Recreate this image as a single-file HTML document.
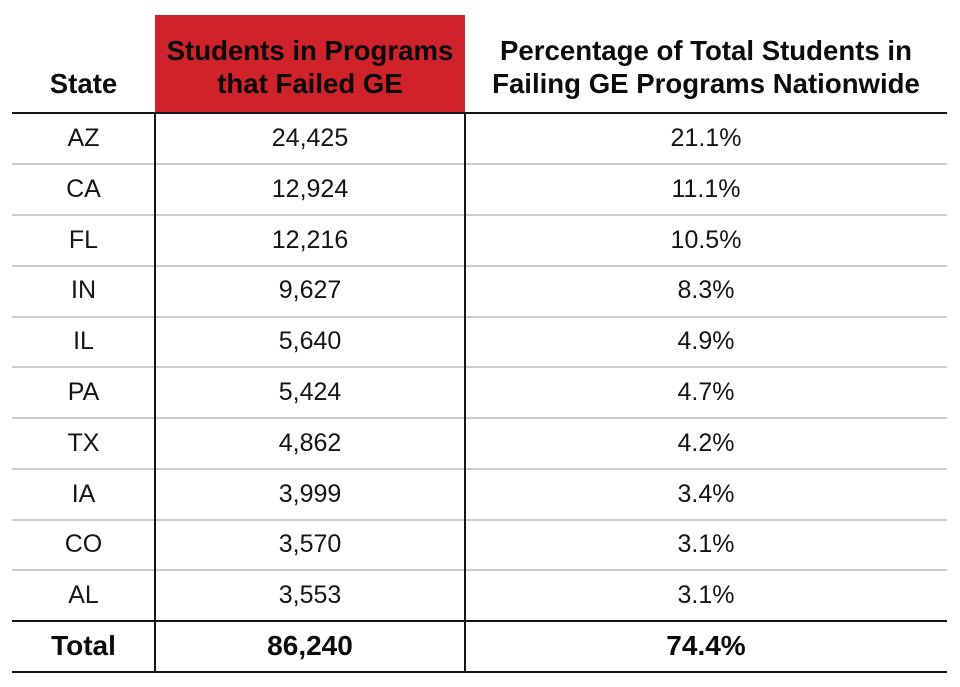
<!DOCTYPE html>
<html>
<head>
<meta charset="utf-8">
<style>
  html, body { margin:0; padding:0; background:#fff; }
  body { width:960px; height:687px; position:relative; overflow:hidden; font-family:"Liberation Sans", Arial, sans-serif; color:#111; }
  .abs { position:absolute; }
  .red { left:155px; top:15px; width:310px; height:98px; background:#d0222b; }
  .hline { position:absolute; left:12px; width:935px; height:2px; }
  .blk { background:#161616; }
  .gry { background:#cdcdcd; }
  .vline { position:absolute; width:2px; top:113px; height:559px; background:#161616; }
  .hdr { position:absolute; font-weight:bold; font-size:27.6px; line-height:33px; text-align:center; color:#0c0c0c; white-space:nowrap; }
  .cell { position:absolute; text-align:center; font-size:25px; height:50.8px; line-height:50.8px; white-space:nowrap; color:#151515; }
  .c1 { left:12px; width:143px; }
  .c2 { left:155px; width:310px; }
  .c3 { left:465px; width:482px; }
  .tot { font-weight:bold; font-size:28px; color:#0c0c0c; }
</style>
</head>
<body>
  <div class="abs red"></div>

  <div class="hdr" style="left:12px;width:143px;top:67px;">State</div>
  <div class="hdr" style="left:155px;width:310px;top:34px;">Students in Programs<br>that Failed GE</div>
  <div class="hdr" style="left:465px;width:482px;top:34px;">Percentage of Total Students in<br>Failing GE Programs Nationwide</div>

  <div class="hline blk" style="top:112px;"></div>
  <div class="hline gry" style="top:163px;"></div>
  <div class="hline gry" style="top:214px;"></div>
  <div class="hline gry" style="top:265px;"></div>
  <div class="hline gry" style="top:316px;"></div>
  <div class="hline gry" style="top:366px;"></div>
  <div class="hline gry" style="top:417px;"></div>
  <div class="hline gry" style="top:468px;"></div>
  <div class="hline gry" style="top:519px;"></div>
  <div class="hline gry" style="top:569px;"></div>
  <div class="hline blk" style="top:620px;"></div>
  <div class="hline blk" style="top:671px;"></div>

  <div class="vline" style="left:153.5px;"></div>
  <div class="vline" style="left:463.7px;"></div>

  <div class="cell c1" style="top:113px;">AZ</div><div class="cell c2" style="top:113px;">24,425</div><div class="cell c3" style="top:113px;">21.1%</div>
  <div class="cell c1" style="top:163.8px;">CA</div><div class="cell c2" style="top:163.8px;">12,924</div><div class="cell c3" style="top:163.8px;">11.1%</div>
  <div class="cell c1" style="top:214.6px;">FL</div><div class="cell c2" style="top:214.6px;">12,216</div><div class="cell c3" style="top:214.6px;">10.5%</div>
  <div class="cell c1" style="top:265.4px;">IN</div><div class="cell c2" style="top:265.4px;">9,627</div><div class="cell c3" style="top:265.4px;">8.3%</div>
  <div class="cell c1" style="top:316.2px;">IL</div><div class="cell c2" style="top:316.2px;">5,640</div><div class="cell c3" style="top:316.2px;">4.9%</div>
  <div class="cell c1" style="top:367px;">PA</div><div class="cell c2" style="top:367px;">5,424</div><div class="cell c3" style="top:367px;">4.7%</div>
  <div class="cell c1" style="top:417.8px;">TX</div><div class="cell c2" style="top:417.8px;">4,862</div><div class="cell c3" style="top:417.8px;">4.2%</div>
  <div class="cell c1" style="top:468.6px;">IA</div><div class="cell c2" style="top:468.6px;">3,999</div><div class="cell c3" style="top:468.6px;">3.4%</div>
  <div class="cell c1" style="top:519.4px;">CO</div><div class="cell c2" style="top:519.4px;">3,570</div><div class="cell c3" style="top:519.4px;">3.1%</div>
  <div class="cell c1" style="top:570.2px;">AL</div><div class="cell c2" style="top:570.2px;">3,553</div><div class="cell c3" style="top:570.2px;">3.1%</div>
  <div class="cell c1 tot" style="top:621px;">Total</div><div class="cell c2 tot" style="top:621px;">86,240</div><div class="cell c3 tot" style="top:621px;">74.4%</div>
</body>
</html>
